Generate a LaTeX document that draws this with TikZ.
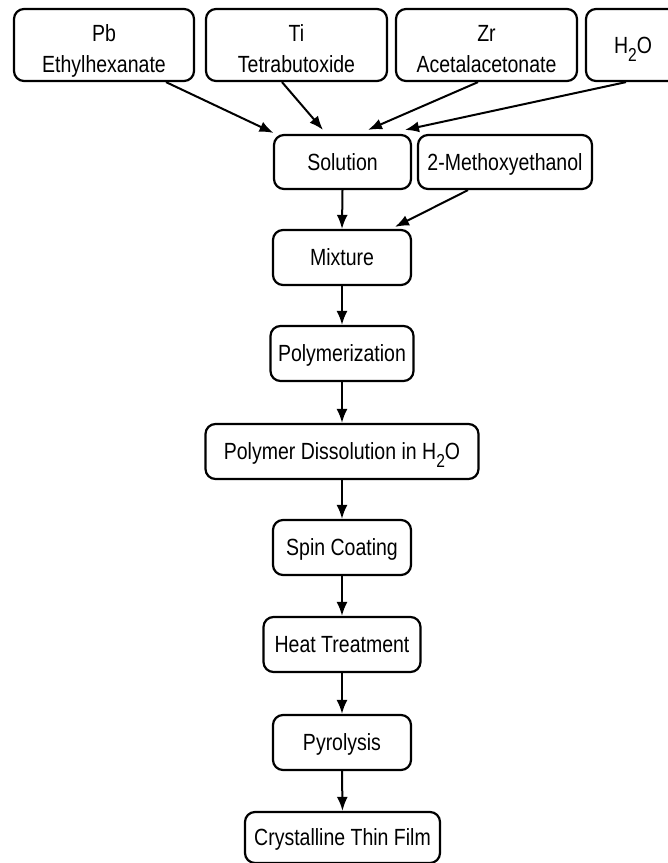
\documentclass[tikz,border=0pt]{standalone}
\usepackage{fontspec}
\usepackage{graphicx}
\setmainfont{Liberation Sans}
\usetikzlibrary{arrows.meta}
\newcommand\vt[1]{\scalebox{1}[1.2]{#1}}
\newcommand\subtwo{\raisebox{-6.5pt}{\fontsize{15.6}{15.6}\selectfont 2}}
\begin{document}
\begin{tikzpicture}[x=1pt,y=-1pt,
  box/.style={draw=black, line width=2.2pt, rounded corners=10pt, inner sep=0pt,
    align=center, font=\fontsize{19.5}{31}\selectfont, minimum height=55pt,
    text height=16.8pt, text depth=0pt},
  topbox/.style={box, minimum height=72pt, text height=54.8pt},
  arr/.style={-{Latex[length=14pt,width=11pt]}, line width=2pt, draw=black}]
\clip (0,0) rectangle (668,863);
% top row
\node[topbox, minimum width=180pt] (pb) at (104,45) {\vt{Pb}\\\vt{Ethylhexanate}};
\node[topbox, minimum width=181pt] (ti) at (296.5,45) {\vt{Ti}\\\vt{Tetrabutoxide}};
\node[topbox, minimum width=181pt] (zr) at (486.5,45) {\vt{Zr}\\\vt{Acetalacetonate}};
\node[box, minimum width=94pt, minimum height=72pt] (h2o) at (633,45) {\vt{H\subtwo O}};
% second row
\node[box, minimum width=137pt, minimum height=54pt] (sol) at (342.5,162) {\vt{Solution}};
\node[box, minimum width=174pt, minimum height=54pt] (meth) at (505,162) {\vt{2-Methoxyethanol}};
% chain
\node[box, minimum width=138pt] (mix) at (342,257.5) {\vt{Mixture}};
\node[box, minimum width=143pt] (poly) at (342,353.5) {\vt{Polymerization}};
\node[box, minimum width=273pt] (diss) at (342,451.5) {\vt{Polymer Dissolution in H\subtwo O}};
\node[box, minimum width=138pt] (spin) at (342,547.5) {\vt{Spin Coating}};
\node[box, minimum width=157pt] (heat) at (342,644.5) {\vt{Heat Treatment}};
\node[box, minimum width=138pt] (pyro) at (342,742.5) {\vt{Pyrolysis}};
\node[box, minimum width=195pt, minimum height=51pt] (film) at (342.5,837.5) {\vt{Crystalline Thin Film}};
% arrows into solution
\draw[arr] ([xshift=62pt]pb.south) -- ([xshift=-69pt,yshift=1pt]sol.north);
\draw[arr] ([xshift=-14.5pt]ti.south) -- ([xshift=-19.5pt,yshift=4pt]sol.north);
\draw[arr] ([xshift=-8.5pt]zr.south) -- ([xshift=25.5pt,yshift=4pt]sol.north);
\draw[arr] ([xshift=-7pt]h2o.south) -- ([xshift=62.5pt,yshift=4pt]sol.north);
% into mixture
\draw[arr] (sol.south) -- (mix.north);
\draw[arr] ([xshift=-37pt]meth.south) -- ([xshift=53pt,yshift=2pt]mix.north);
% chain arrows
\draw[arr] (mix.south) -- (poly.north);
\draw[arr] (poly.south) -- (diss.north);
\draw[arr] (diss.south) -- (spin.north);
\draw[arr] (spin.south) -- (heat.north);
\draw[arr] (heat.south) -- (pyro.north);
\draw[arr] (pyro.south) -- (film.north);
\end{tikzpicture}
\end{document}
